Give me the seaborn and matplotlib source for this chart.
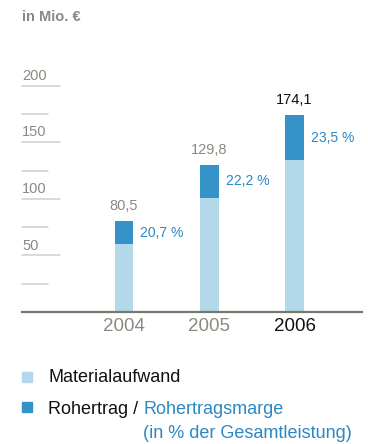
import matplotlib
matplotlib.use("Agg")
import matplotlib.pyplot as plt
import seaborn as sns
import pandas as pd
from matplotlib.patches import Rectangle

years = ["2004", "2005", "2006"]
material = [60.0, 101.0, 134.0]
rohertrag = [20.5, 28.8, 40.1]
totals = [80.5, 129.8, 174.1]
total_labels = ["80,5", "129,8", "174,1"]
margin_labels = ["20,7 %", "22,2 %", "23,5 %"]
major_ticks = [50, 100, 150, 200]
minor_ticks = [25, 75, 125, 175]

LIGHT = "#b3d8ea"
DARK = "#3592c8"
BLUE_TXT = "#2a88c4"
GRAY = "#8a8a82"
AXIS = "#77776c"
TICK = "#cfcfcf"

sns.set_theme(style="white")
plt.rcParams["font.family"] = ["Liberation Sans", "DejaVu Sans"]

W, H = 368, 444
fig = plt.figure(figsize=(W / 100, H / 100), dpi=100)

def fx(px):
    return px / W

def fy(py):
    return 1 - py / H

ymax = 220
base_px = 312
scale = (312 - 85.7) / 200.0
top_px = base_px - ymax * scale
ax = fig.add_axes([fx(22), fy(base_px), fx(362) - fx(22), (base_px - top_px) / H])

df = pd.DataFrame({"year": years, "material": material, "total": totals})
df["stack"] = [m + r for m, r in zip(material, rohertrag)]

sns.barplot(data=df, x="year", y="stack", color=DARK, width=0.22, ax=ax,
            saturation=1, linewidth=0)
sns.barplot(data=df, x="year", y="material", color=LIGHT, width=0.22, ax=ax,
            saturation=1, linewidth=0)

ax.set_xlim(-103 / 86, 240 / 86)
ax.set_ylim(0, ymax)
for s in ["top", "right", "left"]:
    ax.spines[s].set_visible(False)
ax.spines["bottom"].set_color(AXIS)
ax.spines["bottom"].set_linewidth(1.6)
ax.set_xlabel("")
ax.set_ylabel("")
ax.set_yticks([])
ax.tick_params(axis="x", length=0, pad=4, labelsize=13.5, labelcolor=GRAY)
for lbl in ax.get_xticklabels():
    if lbl.get_text() == "2006":
        lbl.set_color("#111111")

tr = ax.get_yaxis_transform()
for v in major_ticks:
    ax.plot([0, 38 / 340], [v, v], transform=tr, color=TICK, lw=1.1, clip_on=False)
    ax.text(0, v + 2.5, str(v), transform=tr, ha="left", va="bottom",
            fontsize=10.5, color=GRAY)
for v in minor_ticks:
    ax.plot([0, 26 / 340], [v, v], transform=tr, color=TICK, lw=1.1, clip_on=False)

for i, (m, r, t) in enumerate(zip(material, rohertrag, total_labels)):
    top = m + r
    ax.annotate(t, (i, top), xytext=(0, 6), textcoords="offset points",
                ha="center", va="bottom", fontsize=10.5,
                color="#111111" if i == 2 else GRAY)
    ax.annotate(margin_labels[i], (i + 0.11, m + r / 2), xytext=(5, 0),
                textcoords="offset points", ha="left", va="center",
                fontsize=10, color=BLUE_TXT)

fig.text(fx(22), fy(17), "in Mio. €", fontsize=10.5, fontweight="bold",
         color=GRAY, ha="left", va="center")

fig.patches.append(Rectangle((fx(22), fy(382)), fx(10), 10 / H,
                             transform=fig.transFigure, color=LIGHT))
fig.patches.append(Rectangle((fx(22), fy(412)), fx(10), 10 / H,
                             transform=fig.transFigure, color=DARK))
fig.text(fx(48), fy(378), "Materialaufwand", fontsize=13, color="#111111",
         ha="left", va="center")
t1 = fig.text(fx(48), fy(409), "Rohertrag / ", fontsize=13, color="#111111",
              ha="left", va="center")
fig.canvas.draw()
bb = t1.get_window_extent()
fig.text(bb.x1 / W, fy(409), "Rohertragsmarge", fontsize=13, color=BLUE_TXT,
         ha="left", va="center")
fig.text(bb.x1 / W, fy(433), "(in % der Gesamtleistung)", fontsize=13,
         color=BLUE_TXT, ha="left", va="center")

fig.savefig("out.png", dpi=100)
